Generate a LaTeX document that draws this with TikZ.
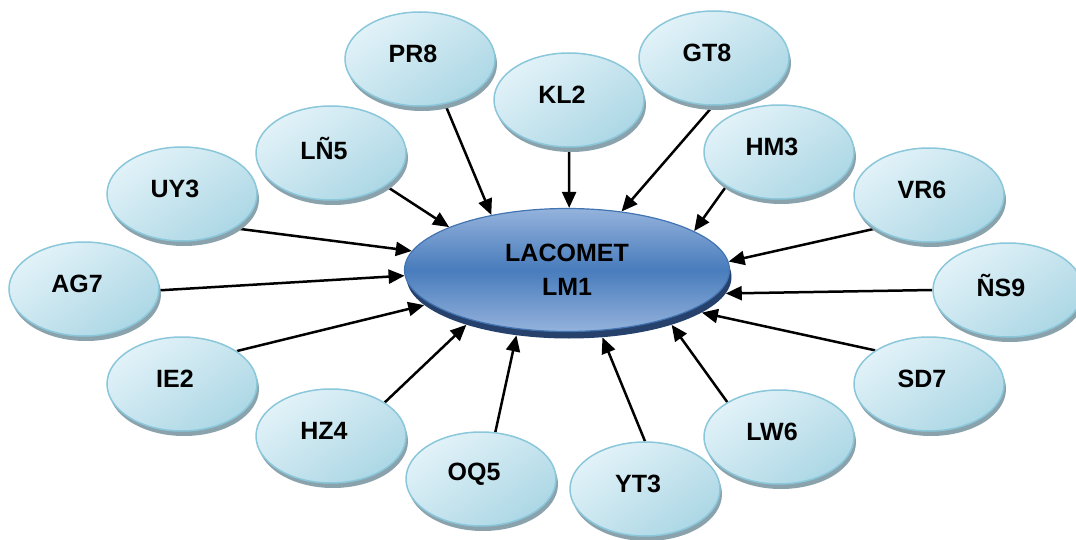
\documentclass[tikz,border=0pt]{standalone}
\usepackage{fontspec}
\setmainfont{Liberation Sans}
\usetikzlibrary{
	arrows.meta,
	shapes.geometric,
	shadows,
	backgrounds
}
\definecolor{bublight}{RGB}{226,242,248}
\definecolor{bubdark}{RGB}{172,215,229}
\definecolor{bubedge}{RGB}{138,199,218}
\definecolor{bubshade}{RGB}{138,162,172}
\definecolor{lmlight}{RGB}{148,178,220}
\definecolor{lmmid}{RGB}{72,124,188}
\definecolor{lmedge}{RGB}{66,116,178}
\definecolor{lmshade}{RGB}{38,66,108}

\begin{document}
\begin{tikzpicture}[x=1pt, y=-1pt,
		bubble/.style={ellipse, draw=bubedge, line width=1.5pt, minimum width=150pt, minimum height=94pt, inner sep=0pt,
			top color=bublight, bottom color=bubdark, shading angle=35,
			drop shadow={shadow xshift=2pt, shadow yshift=-5pt, fill=bubshade, opacity=1}},
		bubtext/.style={font=\bfseries\fontsize{25}{30}\selectfont, xshift=-7pt, yshift=5pt},
		hub/.style={ellipse, draw=lmedge, line width=1.2pt, minimum width=325pt, minimum height=123pt, inner sep=0pt,
			top color=lmlight, bottom color=lmlight, middle color=lmmid,
			font=\bfseries\fontsize{25}{34}\selectfont, align=center},
		hubshade/.style={ellipse, fill=lmshade, minimum width=325pt, minimum height=123pt, inner sep=0pt},
		conn/.style={-{Triangle[length=16pt,width=14pt]}, line width=2.5pt}]
		\useasboundingbox (0,0) rectangle (1076,540);
		% centre
		\node[hubshade] (lmsh) at (569,277) {};
		\node[hub] (lm) at (567,270) {LACOMET\\LM1};
		% ring
		\node[bubble, label={[bubtext]center:PR8}] (PR8) at (420,59) {};
		\node[bubble, label={[bubtext]center:KL2}] (KL2) at (569,100) {};
		\node[bubble, label={[bubtext]center:GT8}] (GT8) at (714,58) {};
		\node[bubble, label={[bubtext]center:LÑ5}] (LN5) at (331,153) {};
		\node[bubble, label={[bubtext]center:HM3}] (HM3) at (779,152) {};
		\node[bubble, label={[bubtext]center:UY3}] (UY3) at (182,194) {};
		\node[bubble, label={[bubtext]center:VR6}] (VR6) at (929,195) {};
		\node[bubble, label={[bubtext]center:AG7}] (AG7) at (84,289) {};
		\node[bubble, label={[bubtext]center:ÑS9}] (NS9) at (1008,290) {};
		\node[bubble, label={[bubtext]center:IE2}] (IE2) at (182,384) {};
		\node[bubble, label={[bubtext]center:SD7}] (SD7) at (929,384) {};
		\node[bubble, label={[bubtext]center:HZ4}] (HZ4) at (331,436) {};
		\node[bubble, label={[bubtext]center:LW6}] (LW6) at (779,437) {};
		\node[bubble, label={[bubtext]center:OQ5}] (OQ5) at (481,479) {};
		\node[bubble, label={[bubtext]center:YT3}] (YT3) at (645,489) {};
		% arrows
		\begin{scope}[on background layer]
			\draw[conn] (PR8.-61.6) -- (lm.144);
			\draw[conn] (KL2.-90) -- (lm.88);
			\draw[conn] (GT8.-91) -- (lm.47.5);
			\draw[conn] (LN5.-31.9) -- (lm.160);
			\draw[conn] (HM3.213.4) -- (lm.17);
			\draw[conn] (UY3.-33.4) -- (lm.173);
			\draw[conn] (VR6.212.2) -- (lm.3.5);
			\draw[conn] (AG7.-1) -- (lm.182);
			\draw[conn] (NS9.180) -- (lmsh.-6.5);
			\draw[conn] (IE2.31.9) -- (lmsh.191);
			\draw[conn] (SD7.148.6) -- (lmsh.-15.4);
			\draw[conn] (HZ4.32.7) -- (lmsh.205.7);
			\draw[conn] (LW6.146.6) -- (lmsh.-25.7);
			\draw[conn] (OQ5.73.7) -- (lmsh.228.5);
			\draw[conn] (YT3.90) -- (lmsh.-61.6);
		\end{scope}
	\end{tikzpicture}
\end{document}
